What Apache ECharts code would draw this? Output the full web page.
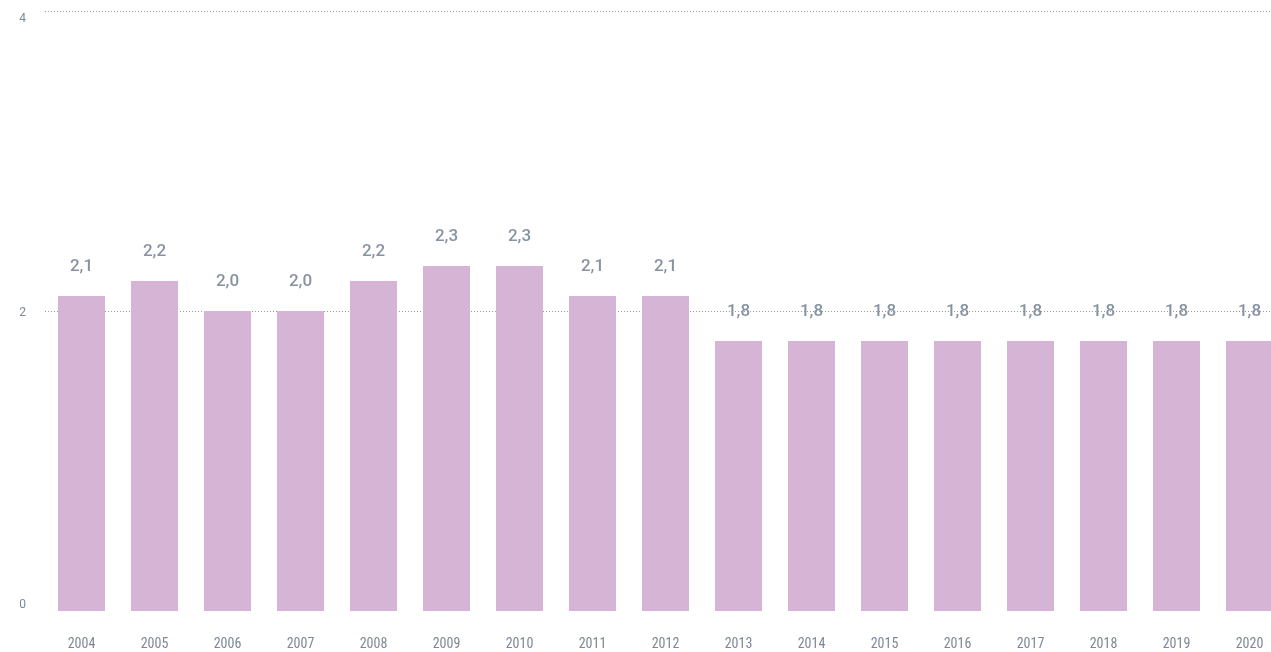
<!DOCTYPE html>
<html><head><meta charset="utf-8">
<script src="https://cdn.jsdelivr.net/npm/echarts@6/dist/echarts.min.js"></script>
<style>html,body{margin:0;padding:0;background:#fff}#c{width:1271px;height:652px}</style>
</head><body><div id="c"></div>
<script>
const categories = ['2004','2005','2006','2007','2008','2009','2010','2011','2012','2013','2014','2015','2016','2017','2018','2019','2020'];
const values = [2.1,2.2,2.0,2.0,2.2,2.3,2.3,2.1,2.1,1.8,1.8,1.8,1.8,1.8,1.8,1.8,1.8];
const yTicks = [0,2,4];
const chart = echarts.init(document.getElementById('c'));
chart.setOption({
  animation:false,
  grid:{left:45,top:11,right:-15,bottom:41,containLabel:false,outerBoundsMode:'none'},
  xAxis:{type:'category',data:categories,axisLine:{show:false},axisTick:{show:false},
    axisLabel:{color:'#7d8894',fontSize:14,margin:26,fontFamily:'Roboto Condensed, Roboto, sans-serif'}},
  yAxis:{type:'value',min:0,max:4,interval:2,axisLine:{show:false},axisTick:{show:false},
    axisLabel:{color:'#7d8894',fontSize:12,margin:19,fontFamily:'Roboto, sans-serif',
      formatter:v=>yTicks.includes(v)?('{t'+v+'|'+v+'}'):'',
      rich:{t0:{padding:[0,0,12,0],fontSize:12,color:'#7d8894'},t2:{padding:[4,0,0,0],fontSize:12,color:'#7d8894'},t4:{padding:[16,0,0,0],fontSize:12,color:'#7d8894'}}},
    splitLine:{show:true,lineStyle:{color:['rgba(0,0,0,0)','#999','#999'],type:[1,2],width:1}}},
  series:[{type:'bar',data:values,barWidth:47,itemStyle:{color:'#d5b4d6'},
    label:{show:true,position:'top',distance:21,color:'#8793a0',fontSize:17,fontWeight:500,
      fontFamily:'Roboto, sans-serif',
      formatter:p=>p.value.toFixed(1).replace('.',',')}}]
});
</script></body></html>
